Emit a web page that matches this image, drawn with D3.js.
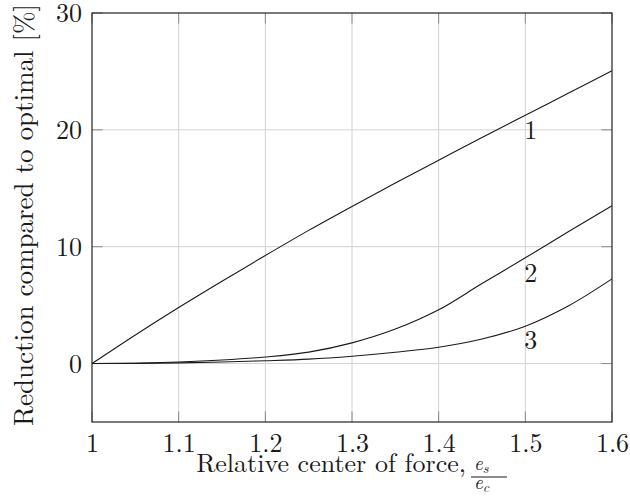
<!DOCTYPE html>
<html>
<head>
<meta charset="utf-8">
<script src="https://cdn.jsdelivr.net/npm/d3@7"></script>
<style>
  html, body { margin: 0; padding: 0; background: #fff; }
  svg { display: block; }
</style>
</head>
<body>
<svg id="chart" width="630" height="502"></svg>
<script>
// Relative center of force (e_s / e_c)
const xValues = [1.00, 1.05, 1.10, 1.15, 1.20, 1.25, 1.30, 1.35, 1.40, 1.45, 1.50, 1.55, 1.60];
// Reduction compared to optimal [%] for the three cases
const series1 = [0, 2.45, 4.8, 7.05, 9.25, 11.4, 13.45, 15.45, 17.4, 19.35, 21.25, 23.15, 25.05];
const series2 = [0, 0.03, 0.13, 0.3, 0.56, 0.98, 1.77, 2.95, 4.6, 6.85, 9.05, 11.3, 13.5];
const series3 = [0, 0.02, 0.06, 0.13, 0.24, 0.38, 0.63, 0.97, 1.4, 2.1, 3.2, 4.95, 7.25];
const seriesNames = ["1", "2", "3"];
// Where each curve's name is written, in data units
const nameX = [1.5, 1.5, 1.5];
const nameY = [19.2, 7.0, 1.25];

const xTicks = [1, 1.1, 1.2, 1.3, 1.4, 1.5, 1.6];
const yTicks = [0, 10, 20, 30];
const xDomain = [1, 1.6];
const yDomain = [-5, 30];

const FONT = '"Latin Modern Roman", "Liberation Serif", serif';
const FS = 26;

const margin = { left: 92, right: 18, top: 13, bottom: 80 };
const W = 630, H = 502;
const svg = d3.select("#chart");

const x = d3.scaleLinear().domain(xDomain).range([margin.left, W - margin.right]);
const y = d3.scaleLinear().domain(yDomain).range([H - margin.bottom, margin.top]);

const x0 = x.range()[0], x1 = x.range()[1];
const yTop = y.range()[1], yBot = y.range()[0];
const tickLen = 10.6;

// grid
const grid = svg.append("g").attr("stroke", "#d2d2d2").attr("stroke-width", 1);
grid.selectAll("line.gx").data(xTicks.slice(1, -1)).join("line")
  .attr("x1", d => x(d)).attr("x2", d => x(d)).attr("y1", yTop).attr("y2", yBot);
grid.selectAll("line.gy").data(yTicks.filter(d => d > yDomain[0] && d < yDomain[1])).join("line")
  .attr("x1", x0).attr("x2", x1).attr("y1", d => y(d)).attr("y2", d => y(d));

// inward ticks on all four sides
const ticks = svg.append("g").attr("stroke", "#8c8c8c").attr("stroke-width", 1);
xTicks.forEach(v => {
  ticks.append("line").attr("x1", x(v)).attr("x2", x(v)).attr("y1", yBot).attr("y2", yBot - tickLen);
  ticks.append("line").attr("x1", x(v)).attr("x2", x(v)).attr("y1", yTop).attr("y2", yTop + tickLen);
});
yTicks.forEach(v => {
  ticks.append("line").attr("x1", x0).attr("x2", x0 + tickLen).attr("y1", y(v)).attr("y2", y(v));
  ticks.append("line").attr("x1", x1).attr("x2", x1 - tickLen).attr("y1", y(v)).attr("y2", y(v));
});

// tick labels via d3 axes (domain and tick lines hidden)
const fmtX = d => (d === 1 ? "1" : d3.format(".1f")(d));
const gx = svg.append("g").attr("transform", `translate(0,${yBot})`)
  .call(d3.axisBottom(x).tickValues(xTicks).tickFormat(fmtX).tickSize(0).tickPadding(12));
const gy = svg.append("g").attr("transform", `translate(${x0},0)`)
  .call(d3.axisLeft(y).tickValues(yTicks).tickFormat(d3.format("d")).tickSize(0).tickPadding(10));
[gx, gy].forEach(g => {
  g.select(".domain").remove();
  g.selectAll("text").style("font-family", FONT).style("font-size", FS + "px").attr("fill", "#1a1a1a");
});
gx.selectAll("text").attr("dy", "0.71em");
gy.selectAll("text").attr("dy", "0.33em");

// curves
const line = d3.line().x((d, i) => x(xValues[i])).y(d => y(d)).curve(d3.curveCatmullRom.alpha(0.5));
const allSeries = [series1, series2, series3];
svg.append("g").selectAll("path").data(allSeries).join("path")
  .attr("d", d => line(d)).attr("fill", "none").attr("stroke", "#1a1a1a").attr("stroke-width", 1.1);

// curve names
svg.append("g").selectAll("text").data(seriesNames).join("text")
  .attr("x", (d, i) => x(nameX[i]) - 1).attr("y", (d, i) => y(nameY[i]))
  .style("font-family", FONT).style("font-size", FS + "px").attr("fill", "#1a1a1a").text(d => d);

// frame
svg.append("rect").attr("x", x0).attr("y", yTop).attr("width", x1 - x0).attr("height", yBot - yTop)
  .attr("fill", "none").attr("stroke", "#222").attr("stroke-width", 1.2);

// y-axis title
svg.append("text").attr("transform", `translate(33,${215}) rotate(-90)`)
  .attr("text-anchor", "middle").style("font-family", FONT).style("font-size", "27px")
  .attr("fill", "#1a1a1a").text("Reduction compared to optimal [%]");

// x-axis title with the fraction e_s / e_c
svg.append("text").attr("x", 466).attr("y", 472).attr("text-anchor", "end")
  .style("font-family", FONT).style("font-size", FS + "px").attr("fill", "#1a1a1a")
  .text("Relative center of force,");
const frac = svg.append("g").attr("transform", "translate(471,0)");
const mathText = (yy, sub) => {
  const t = frac.append("text").attr("x", 3).attr("y", yy)
    .style("font-family", FONT).style("font-style", "italic").style("font-size", "19px").attr("fill", "#1a1a1a");
  t.append("tspan").text("e");
  t.append("tspan").style("font-size", "14px").attr("dy", 3).text(sub);
};
mathText(470, "s");
frac.append("line").attr("x1", 0).attr("x2", 36).attr("y1", 477).attr("y2", 477)
  .attr("stroke", "#1a1a1a").attr("stroke-width", 1);
mathText(489, "c");
</script>
</body>
</html>
